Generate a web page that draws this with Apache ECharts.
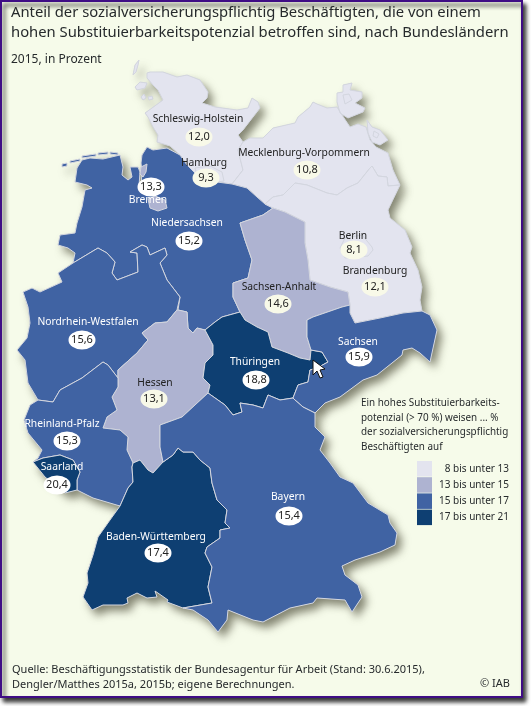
<!DOCTYPE html>
<html>
<head>
<meta charset="utf-8">
<script src="https://cdn.jsdelivr.net/npm/echarts@6/dist/echarts.min.js"></script>
<style>
  html, body { margin: 0; padding: 0; background: #fff; }
  #chart { width: 532px; height: 706px; }
</style>
</head>
<body>
<div id="chart"></div>
<script>
// values
const stateNames = ['Schleswig-Holstein', 'Hamburg', 'Mecklenburg-Vorpommern', 'Niedersachsen', 'Bremen',
  'Brandenburg', 'Berlin', 'Sachsen-Anhalt', 'Nordrhein-Westfalen', 'Hessen', 'Thüringen', 'Sachsen',
  'Rheinland-Pfalz', 'Saarland', 'Baden-Württemberg', 'Bayern'];
const stateValues = [12.0, 9.3, 10.8, 15.2, 13.3, 12.1, 8.1, 14.6, 15.6, 13.1, 18.8, 15.9, 15.3, 20.4, 17.4, 15.4];
const bandLimits = [[8, 13], [13, 15], [15, 17], [17, 21]];
const bandLabels = ['\u20078 bis unter 13', '13 bis unter 15', '15 bis unter 17', '17 bis unter 21'];
const bandColors = ['#E3E4EF', '#AEB3D1', '#4063A3', '#0E3F72'];
const whiteNames = ['Niedersachsen', 'Bremen', 'Nordrhein-Westfalen', 'Thüringen', 'Sachsen',
  'Rheinland-Pfalz', 'Saarland', 'Baden-Württemberg', 'Bayern'];

// where the two label parts sit, same order as stateNames (picture pixels)
const nameAnchors = [[198, 119], [204, 163], [304, 153], [187, 223], [148, 200], [375, 271], [353, 236], [279, 287],
  [88, 322], [155, 383], [255, 362], [358, 342], [62, 424], [62, 467], [156, 537], [288, 497]];
const valueAnchors = [[199, 137], [206, 178], [307, 170], [189, 241], [151, 187], [375, 287], [354, 250], [278, 304],
  [82, 340], [154, 399], [256, 380], [359, 357], [67, 441], [57, 485], [158, 553], [289, 516]];

// --- outlines, shared borders are written once ---
const shCoast = [[157,142],[158,135],[153,127],[148,117],[145,113],[152,108],[163,100],[158,90],[153,85],[147,78],[147,73],[150,72],[163,72],[177,77],[187,75],[200,80],[208,92],[207,98],[202,103],[215,107],[237,110],[248,108],[252,98],[258,102],[260,108],[253,117],[243,130],[238,135],[243,142]];
const shMv = [[243,142],[238,150],[240,158],[243,170],[232,184]];
const nsNorth = [[147,147],[153,150],[167,148],[180,155],[187,165],[197,175],[207,181],[217,182],[232,184]];
const nsEast = [[232,184],[247,188],[257,197],[265,204],[273,208]];
const nsSa = [[273,208],[263,215],[240,223],[245,240],[252,260],[248,278],[233,283],[233,297],[240,312]];
const saTh = [[240,312],[245,320],[257,327],[268,332],[272,347],[288,353],[300,358],[310,360],[311,350]];
const nsTh = [[240,312],[222,317],[215,322],[205,330]];
const nsHe = [[205,330],[197,328],[193,333],[188,328],[187,312],[178,310]];
const nsNw = [[178,310],[180,297],[167,280],[160,263],[167,255],[165,248],[150,255],[147,247],[142,245],[130,252],[137,253],[138,272],[117,280],[112,273],[115,262],[107,253],[98,248],[73,263]];
const nsWest = [[73,263],[75,253],[68,248],[58,245],[60,235],[75,233],[77,223],[82,207],[85,190],[92,188],[87,185],[75,182],[77,168],[82,160],[90,158],[103,159],[120,155],[123,167],[122,175],[128,180],[132,177],[130,167],[138,167],[140,172],[139,186],[141,186],[142,172],[141,163],[142,155],[147,147]];
const nwOuter = [[73,263],[58,273],[62,282],[40,292],[32,288],[23,292],[28,307],[30,323],[27,338],[17,350],[25,360],[28,383],[38,400]];
const nwRp = [[38,400],[53,402],[60,390],[82,378],[103,362],[108,365],[118,378]];
const nwHe = [[118,378],[118,370],[137,353],[148,340],[142,333],[155,323],[167,322],[177,310],[178,310]];
const heTh = [[205,330],[213,345],[213,355],[205,363],[203,378],[210,385],[208,393]];
const heBy = [[208,393],[195,405],[182,417],[160,425],[160,447],[163,462]];
const heBw = [[163,462],[153,473],[148,470],[140,460],[133,463]];
const heRp = [[133,463],[127,450],[128,437],[120,430],[103,428],[107,417],[117,410],[112,397],[118,387],[118,378]];
const rpOuter = [[38,400],[30,405],[24,420],[28,433],[42,450],[38,458],[33,462]];
const rpSl = [[33,462],[43,458],[60,455],[73,460],[80,472],[77,480],[77,490]];
const rpSouth = [[77,490],[93,498],[120,506]];
const rpBw = [[120,506],[128,488],[133,482],[132,467],[133,463]];
const bwOuter = [[120,506],[110,520],[98,537],[93,555],[87,573],[88,583],[83,597],[92,610],[103,605],[123,605],[128,603],[127,598],[137,593],[147,598],[157,597],[155,591],[168,600],[167,602],[183,608]];
const byBw = [[163,462],[173,455],[178,448],[183,452],[193,452],[200,460],[210,468],[212,483],[217,500],[227,510],[225,523],[230,528],[220,530],[220,538],[207,547],[205,553],[212,567],[208,587],[212,603],[183,608]];
const byOuter = [[183,608],[193,610],[208,620],[218,632],[227,620],[228,610],[253,620],[263,622],[290,608],[313,603],[317,598],[345,600],[352,612],[362,597],[358,585],[345,575],[342,566],[355,560],[380,552],[395,545],[397,533],[390,523],[388,515],[368,503],[353,483],[340,477],[330,463],[320,450],[325,437],[315,427],[315,413]];
const thBy = [[208,393],[225,405],[233,415],[242,412],[240,403],[253,405],[263,408],[268,395],[280,400],[293,398],[295,400]];
const sxBy = [[295,400],[303,407],[315,413]];
const thSx = [[311,350],[322,352],[328,362],[317,368],[310,370],[308,382],[298,385],[293,398],[295,400]];
const saSx = [[311,350],[307,337],[307,320],[313,317],[342,307],[350,305]];
const sxBb = [[350,305],[350,313],[355,323],[380,318],[403,313],[422,311]];
const sxOuter = [[422,311],[430,315],[437,330],[430,362],[420,353],[412,348],[403,350],[402,355],[377,375],[363,380],[340,397],[325,403],[315,413]];
const saBb = [[273,208],[285,212],[305,222],[305,243],[308,260],[310,280],[330,287],[348,292],[350,305]];
const mvBb = [[265,204],[273,197],[283,195],[295,183],[307,185],[327,193],[337,195],[347,188],[358,183],[370,168],[372,166],[378,176],[387,177],[388,186],[400,185]];
const bbOuter = [[400,185],[388,210],[390,218],[405,230],[412,247],[410,253],[418,270],[422,287],[420,300],[422,311]];
const mvCoast = [[243,142],[250,138],[263,138],[273,128],[295,123],[298,117],[310,107],[313,102],[317,104],[327,108],[337,107],[342,115],[350,127],[358,124],[366,127],[370,140],[376,147],[388,153],[393,170],[400,185]];

const rev = a => a.slice().reverse();
const ring = (...parts) => parts.flat();

const shapes = {
  'Schleswig-Holstein': [
    [ring(shCoast, shMv, rev(nsNorth).slice(0, 6), [[170,146],[157,142]])],
    [[[139,60],[135,65],[133,75],[136,72],[138,65],[139,60]]],
    [[[135,87],[140,82],[147,83],[145,88],[137,90],[135,87]]],
    [[[141,97],[144,94],[146,98],[143,100],[141,97]]],
    [[[148,97],[152,96],[153,99],[149,100],[148,97]]]
  ],
  'Hamburg': [[[[195,168],[210,166],[222,172],[224,181],[217,182],[207,181],[197,175],[195,168]]]],
  'Mecklenburg-Vorpommern': [
    [ring(mvCoast, rev(mvBb), rev(nsEast).slice(2), rev(shMv))],
    [[[343,85],[352,83],[350,90],[362,92],[362,98],[355,103],[365,108],[363,112],[348,118],[340,113],[337,102],[337,93],[343,92],[343,85]],
     [[343,95],[349,94],[352,100],[345,104],[343,95]]],
    [[[367,120],[372,127],[380,130],[388,140],[380,145],[372,142],[368,133],[367,120]],
     [[374,131],[379,134],[377,138],[373,136],[374,131]]]
  ],
  'Niedersachsen': [
    [ring(nsNorth, nsEast, nsSa, nsTh, nsHe, nsNw, nsWest)],
    [[[62,164],[67,163],[67,166],[62,167],[62,164]]],
    [[[70,161],[80,159],[80,161],[70,163],[70,161]]],
    [[[82,156],[96,154],[96,156],[82,158],[82,156]]],
    [[[98,153],[108,152],[108,154],[98,155],[98,153]]],
    [[[110,152],[118,153],[118,155],[110,154],[110,152]]]
  ],
  'Bremen': [
    [[[148,199],[155,196],[165,200],[167,208],[158,211],[150,208],[148,199]]],
    [[[141,167],[147,164],[146,172],[143,177],[140,174],[141,167]]]
  ],
  'Brandenburg': [[ring(mvBb, bbOuter, rev(sxBb), rev(saBb), [[265,204]])]],
  'Berlin': [[[[345,238],[362,235],[372,247],[373,250],[368,256],[345,258],[340,248],[345,238]]]],
  'Sachsen-Anhalt': [[ring(saBb, rev(saSx), rev(saTh), rev(nsSa))]],
  'Nordrhein-Westfalen': [[ring(nwOuter, nwRp, nwHe, nsNw)]],
  'Hessen': [[ring(rev(nsHe), heTh, heBy, heBw, heRp, nwHe)]],
  'Thüringen': [[ring(saTh, thSx, rev(thBy), rev(heTh), rev(nsTh))]],
  'Sachsen': [[ring(saSx, sxBb, sxOuter, rev(sxBy), rev(thSx))]],
  'Rheinland-Pfalz': [[ring(rpOuter, rpSl, rpSouth, rpBw, heRp, rev(nwRp))]],
  'Saarland': [[ring(rpSl, [[65,493],[45,477],[33,462]])]],
  'Baden-Württemberg': [[ring(heBw, rev(rpBw), bwOuter, rev(byBw))]],
  'Bayern': [[ring(byBw, byOuter, rev(sxBy), rev(thBy), heBy)]]
};

// the map keeps picture pixels as coordinates, y just points up
const toGeo = ([x, y]) => [x, -y];
let minX = Infinity, maxX = -Infinity, minY = Infinity, maxY = -Infinity;
const features = stateNames.map(name => ({
  type: 'Feature',
  properties: { name },
  geometry: {
    type: 'MultiPolygon',
    coordinates: shapes[name].map(poly => poly.map(r => r.map(p => {
      minX = Math.min(minX, p[0]); maxX = Math.max(maxX, p[0]);
      minY = Math.min(minY, p[1]); maxY = Math.max(maxY, p[1]);
      return toGeo(p);
    })))
  }
}));
echarts.registerMap('deutschland', { type: 'FeatureCollection', features });

const mapBox = { left: minX, top: minY, width: maxX - minX, height: maxY - minY, aspectScale: 1 };
const font = '"Noto Sans", sans-serif';
const textDark = '#262a2c';

const chart = echarts.init(document.getElementById('chart'), null, { renderer: 'canvas' });

chart.setOption({
  animation: false,
  backgroundColor: '#fff',
  title: [
    { text: 'Anteil der sozialversicherungspflichtig Beschäftigten, die von einem\nhohen Substituierbarkeitspotenzial betroffen sind, nach Bundesländern',
      left: 11, top: 3, padding: 0, textStyle: { fontFamily: font, fontSize: 14.8, fontWeight: 'normal', color: textDark, lineHeight: 20 } },
    { text: '2015, in Prozent', left: 11, top: 54, padding: 0, textStyle: { fontFamily: font, fontSize: 12, fontWeight: 'normal', color: textDark } },
    { text: 'Ein hohes Substituierbarkeits-\npotenzial (> 70 %) weisen ... %\nder sozialversicherungspflichtig\nBeschäftigten auf',
      left: 361, top: 396, padding: 0, textStyle: { fontFamily: font, fontSize: 9.9, fontWeight: 'normal', color: textDark, lineHeight: 14.6 } },
    { text: 'Quelle: Beschäftigungsstatistik der Bundesagentur für Arbeit (Stand: 30.6.2015),\nDengler/Matthes 2015a, 2015b; eigene Berechnungen.',
      left: 12, top: 662, padding: 0, textStyle: { fontFamily: font, fontSize: 11, fontWeight: 'normal', color: textDark, lineHeight: 15.4 } },
    { text: '© IAB', right: 22, top: 678, padding: 0, textStyle: { fontFamily: font, fontSize: 11, fontWeight: 'normal', color: textDark } }
  ],
  graphic: [
    // card with purple border and drop shadow
    { type: 'rect', z: -10, silent: true, shape: { x: 1, y: 1, width: 521, height: 696 },
      style: { fill: '#F6FBEA', stroke: '#3F0D85', lineWidth: 2, shadowColor: 'rgba(0,0,0,0.8)', shadowBlur: 4, shadowOffsetX: 3, shadowOffsetY: 4 } },
    // mouse pointer that is in the screenshot
    { type: 'polygon', z: 100, silent: true,
      shape: { points: [[313,360],[313,375],[317,371],[320,378],[323,377],[320,370],[325,369]] },
      style: { fill: '#fff', stroke: '#111', lineWidth: 1 } }
  ],
  visualMap: {
    type: 'piecewise',
    seriesIndex: 0,
    orient: 'vertical',
    left: 417,
    top: 461,
    padding: 0,
    align: 'left',
    itemWidth: 15,
    itemHeight: 15.5,
    itemGap: 0.7,
    textGap: 7,
    selectedMode: false,
    hoverLink: false,
    inverse: true,
    itemSymbol: 'rect',
    textStyle: { fontFamily: font, fontSize: 10, color: textDark },
    pieces: bandLimits.map((b, i) => ({ gte: b[0], lt: b[1], label: bandLabels[i], color: bandColors[i] }))
  },
  // first copy only throws the soft shadow under the whole country
  geo: {
    map: 'deutschland',
    ...mapBox,
    z: 1,
    silent: true,
    label: { show: false },
    emphasis: { disabled: true },
    itemStyle: { areaColor: '#c9cabd', borderWidth: 0, shadowColor: 'rgba(70,70,50,0.65)', shadowBlur: 9, shadowOffsetX: 5, shadowOffsetY: 6 }
  },
  series: [
    {
      type: 'map',
      map: 'deutschland',
      ...mapBox,
      z: 2,
      silent: true,
      label: { show: false },
      emphasis: { disabled: true },
      itemStyle: { borderColor: '#d3d6df', borderWidth: 1 },
      data: stateNames.map((name, i) => ({ name, value: stateValues[i] }))
    },
    {
      // value ellipses, white on the blue states and ivory on the pale ones
      type: 'scatter',
      coordinateSystem: 'geo',
      geoIndex: 0,
      z: 5,
      silent: true,
      symbol: 'circle',
      symbolSize: [27, 19],
      label: { show: true, position: 'inside', fontFamily: font, fontSize: 11, color: '#222',
        formatter: p => p.value[2].toFixed(1).replace('.', ',') },
      data: stateValues.map((v, i) => ({
        value: [...toGeo(valueAnchors[i]), v],
        itemStyle: { opacity: 1, color: whiteNames.includes(stateNames[i]) ? '#fff' : '#F8F9E8' }
      }))
    },
    {
      // state names
      type: 'scatter',
      coordinateSystem: 'geo',
      geoIndex: 0,
      z: 6,
      silent: true,
      symbolSize: 1,
      itemStyle: { opacity: 0 },
      data: stateNames.map((name, i) => ({
        value: toGeo(nameAnchors[i]),
        label: {
          show: true, position: 'inside', formatter: name, fontFamily: font, fontSize: 10.3, opacity: 1,
          color: whiteNames.includes(name) ? '#fff' : '#222'
        }
      }))
    }
  ]
});
</script>
</body>
</html>
